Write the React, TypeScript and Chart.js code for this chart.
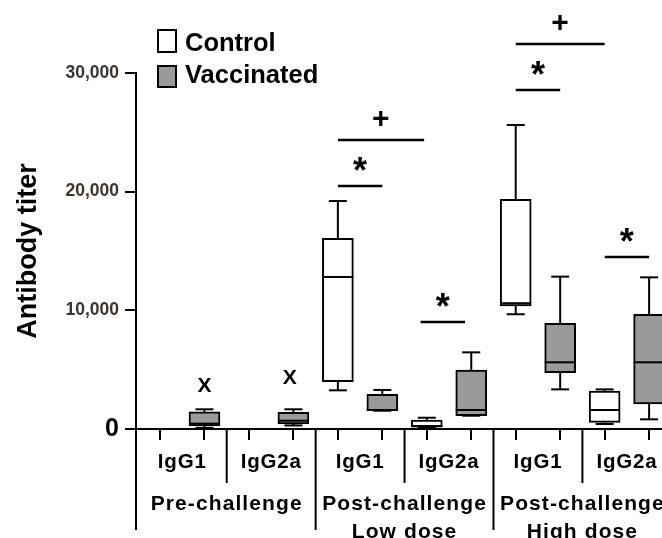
import React, { useEffect, useRef } from 'react';
import { Chart, registerables } from 'chart.js';

Chart.register(...registerables);

// ---------- data ----------
const subgroupLabels = ['IgG1', 'IgG2a', 'IgG1', 'IgG2a', 'IgG1', 'IgG2a'];
const groupLabels = [['Pre-challenge'], ['Post-challenge', 'Low dose'], ['Post-challenge', 'High dose']];
const seriesNames = ['Control', 'Vaccinated'];

const controlMin = [null, null, 3260, 100, 9670, 420];
const controlQ1 = [null, null, 3990, 150, 10370, 560];
const controlMedian = [null, null, 12810, 250, 10600, 1600];
const controlQ3 = [null, null, 16070, 760, 19360, 3200];
const controlMax = [null, null, 19210, 950, 25620, 3340];

const vaccMin = [100, 300, 1540, 1120, 3340, 815];
const vaccQ1 = [250, 420, 1540, 1120, 4750, 2110];
const vaccMedian = [450, 700, 1600, 1600, 5620, 5620];
const vaccQ3 = [1450, 1400, 2920, 4970, 8900, 9660];
const vaccMax = [1660, 1660, 3290, 6460, 12840, 12780];

const yTickValues = [0, 10000, 20000, 30000];
const yTickLabels = ['0', '10,000', '20,000', '30,000'];

// significance marks (positions in category units, levels in titer units)
const sigSymbols = ['+', '*', '*', '+', '*', '*'];
const sigFrom = [4, 4, 5.86, 8, 8, 10];
const sigTo = [5.94, 5, 6.86, 10, 9, 11];
const sigLevel = [24350, 20480, 9020, 32440, 28570, 14490];
const xMarkPos = [1, 2.92];
const xMarkLevel = [3710, 4420];

// ---------- style ----------
const FONT = '"Liberation Sans", Arial, Helvetica, sans-serif';
const GRAY = '#9a9a9a';
const X_MIN = -0.54;
const X_MAX = 11.29;

type Box = { x: number; y: [number, number]; min: number; med: number; max: number };

function buildBoxes(mins: any[], q1s: any[], meds: any[], q3s: any[], maxs: any[], k: number): Box[] {
  const out: Box[] = [];
  q1s.forEach((q1, s) => {
    if (q1 == null) return;
    out.push({ x: 2 * s + k, y: [q1, q3s[s]], min: mins[s], med: meds[s], max: maxs[s] });
  });
  return out;
}

function drawInkCentered(ctx: CanvasRenderingContext2D, text: string, cx: number, cy: number) {
  ctx.textAlign = 'left';
  ctx.textBaseline = 'alphabetic';
  const m = ctx.measureText(text);
  const x = cx - (m.actualBoundingBoxRight - m.actualBoundingBoxLeft) / 2;
  const y = cy + (m.actualBoundingBoxAscent - m.actualBoundingBoxDescent) / 2;
  ctx.fillText(text, x, y);
}

const boxPlugin = {
  id: 'boxWhiskers',
  afterDatasetsDraw(chart: any) {
    const { ctx, scales, chartArea } = chart;
    const y = scales.y;
    ctx.save();
    ctx.beginPath();
    ctx.rect(chartArea.left, 0, chartArea.right - chartArea.left, chart.height);
    ctx.clip();
    ctx.strokeStyle = '#000';
    ctx.lineWidth = 2;
    chart.data.datasets.forEach((ds: any, di: number) => {
      const meta = chart.getDatasetMeta(di);
      ds.data.forEach((d: Box, i: number) => {
        const el = meta.data[i];
        if (!el) return;
        const cx = el.x;
        const half = el.width / 2;
        const cap = 9;
        const line = (x1: number, y1: number, x2: number, y2: number) => {
          ctx.beginPath();
          ctx.moveTo(x1, y1);
          ctx.lineTo(x2, y2);
          ctx.stroke();
        };
        const pMed = y.getPixelForValue(d.med);
        line(cx - half, pMed, cx + half, pMed);
        const pQ3 = y.getPixelForValue(d.y[1]);
        const pMax = y.getPixelForValue(d.max);
        if (pMax < pQ3 - 1) line(cx, pQ3, cx, pMax);
        line(cx - cap, pMax, cx + cap, pMax);
        const pQ1 = y.getPixelForValue(d.y[0]);
        const pMin = y.getPixelForValue(d.min);
        if (pMin > pQ1 + 1) line(cx, pQ1, cx, pMin);
        line(cx - cap, pMin, cx + cap, pMin);
      });
    });
    ctx.restore();
  },
};

const decorPlugin = {
  id: 'decor',
  afterDraw(chart: any) {
    const { ctx, scales, chartArea } = chart;
    const x = scales.x;
    const y = scales.y;
    ctx.save();
    ctx.strokeStyle = '#000';
    ctx.fillStyle = '#000';
    ctx.lineWidth = 2;
    const bottom = chartArea.bottom;
    const vline = (px: number, len: number) => {
      ctx.beginPath();
      ctx.moveTo(px, bottom);
      ctx.lineTo(px, bottom + len);
      ctx.stroke();
    };
    // y axis extension below the x axis
    vline(chartArea.left, 101);
    // separators
    for (let s = 0; s < subgroupLabels.length - 1; s++) {
      const px = x.getPixelForValue(2 * s + 1.5);
      const isGroup = s % 2 === 1;
      vline(px, isGroup ? 101 : 54);
    }
    // subgroup labels
    ctx.font = `bold 20.5px ${FONT}`;
    (ctx as any).letterSpacing = '0.8px';
    ctx.textAlign = 'center';
    ctx.textBaseline = 'alphabetic';
    subgroupLabels.forEach((lab, s) => {
      ctx.fillText(lab, x.getPixelForValue(2 * s + 0.5), bottom + 39);
    });
    // group labels
    ctx.font = `bold 21px ${FONT}`;
    (ctx as any).letterSpacing = '1.1px';
    groupLabels.forEach((lines, g) => {
      const px = x.getPixelForValue(4 * g + 1.5);
      lines.forEach((t, li) => ctx.fillText(t, px, bottom + 81 + li * 28));
    });
    (ctx as any).letterSpacing = '0px';

    // significance lines
    ctx.lineWidth = 2.5;
    sigSymbols.forEach((sym, i) => {
      const x1 = x.getPixelForValue(sigFrom[i]);
      const x2 = x.getPixelForValue(sigTo[i]);
      const py = y.getPixelForValue(sigLevel[i]);
      ctx.beginPath();
      ctx.moveTo(x1, py);
      ctx.lineTo(x2, py);
      ctx.stroke();
      ctx.font = sym === '+' ? `bold 30px ${FONT}` : `bold 36px ${FONT}`;
      drawInkCentered(ctx, sym, (x1 + x2) / 2, py - 22);
    });
    // X marks
    ctx.font = `bold 21px ${FONT}`;
    xMarkPos.forEach((p, i) => {
      drawInkCentered(ctx, 'X', x.getPixelForValue(p), y.getPixelForValue(xMarkLevel[i]));
    });

    // legend
    const fills = chart.data.datasets.map((d: any) => d.backgroundColor);
    const sqTop = [30, 66];
    const sqH = [22, 21];
    const baselines = [50.7, 83];
    ctx.font = `bold 25.5px ${FONT}`;
    ctx.textAlign = 'left';
    ctx.textBaseline = 'alphabetic';
    ctx.lineWidth = 2;
    seriesNames.forEach((name, i) => {
      ctx.fillStyle = fills[i];
      ctx.fillRect(158, sqTop[i], 18, sqH[i]);
      ctx.strokeStyle = '#000';
      ctx.strokeRect(158, sqTop[i], 18, sqH[i]);
      ctx.fillStyle = '#000';
      ctx.fillText(name, 185, baselines[i]);
    });
    ctx.restore();
  },
};

export default function App() {
  const ref = useRef<HTMLCanvasElement | null>(null);
  useEffect(() => {
    if (!ref.current) return;
    const chart = new Chart(ref.current, {
      type: 'bar',
      data: {
        datasets: [
          {
            label: seriesNames[0],
            data: buildBoxes(controlMin, controlQ1, controlMedian, controlQ3, controlMax, 0) as any,
            backgroundColor: '#ffffff',
            borderColor: '#000000',
            borderWidth: 2,
            borderSkipped: false,
            barThickness: 31,
            grouped: false,
          },
          {
            label: seriesNames[1],
            data: buildBoxes(vaccMin, vaccQ1, vaccMedian, vaccQ3, vaccMax, 1) as any,
            backgroundColor: GRAY,
            borderColor: '#000000',
            borderWidth: 2,
            borderSkipped: false,
            barThickness: 31,
            grouped: false,
          },
        ],
      },
      options: {
        responsive: false,
        animation: false,
        layout: { padding: { top: 73, left: 0, right: 0, bottom: 0 } },
        plugins: { legend: { display: false }, tooltip: { enabled: false } },
        scales: {
          x: {
            type: 'linear',
            offset: false,
            bounds: 'data',
            min: X_MIN,
            max: X_MAX,
            afterBuildTicks: (axis: any) => {
              axis.ticks = Array.from({ length: subgroupLabels.length * 2 }, (_, i) => ({ value: i }));
              axis.min = X_MIN;
              axis.max = X_MAX;
            },
            afterFit: (axis: any) => {
              axis.height = 109;
            },
            ticks: { display: false },
            grid: {
              display: true,
              offset: false,
              drawOnChartArea: false,
              drawTicks: true,
              tickLength: 11,
              lineWidth: 2,
              color: '#000',
            },
            border: { display: true, color: '#000', width: 2 },
          },
          y: {
            type: 'linear',
            min: 0,
            max: 30000,
            afterBuildTicks: (axis: any) => {
              axis.ticks = yTickValues.map((v) => ({ value: v }));
            },
            afterFit: (axis: any) => {
              axis.width = 136;
            },
            ticks: {
              padding: 6,
              callback: (_v: any, i: number) => yTickLabels[i],
              font: (c: any) =>
                c.tick && c.tick.value === 0
                  ? { family: FONT, size: 25, weight: 'bold' }
                  : { family: FONT, size: 17.5, weight: 'bold' },
              color: (c: any) => (c.tick && c.tick.value === 0 ? '#000' : '#3a3530'),
            },
            grid: {
              display: true,
              drawOnChartArea: false,
              drawTicks: true,
              tickLength: 11,
              lineWidth: 2,
              color: '#000',
            },
            border: { display: true, color: '#000', width: 2 },
            title: {
              display: true,
              text: 'Antibody titer',
              color: '#000',
              font: { family: FONT, size: 27, weight: 'bold' },
              padding: { top: 12, bottom: 0 },
            },
          },
        },
      } as any,
      plugins: [boxPlugin, decorPlugin],
    });
    return () => chart.destroy();
  }, []);

  return (
    <div style={{ position: 'absolute', left: 0, top: 0, width: 662, height: 538, overflow: 'hidden', background: '#fff' }}>
      <canvas ref={ref} width={662} height={538} style={{ display: 'block' }} />
    </div>
  );
}
